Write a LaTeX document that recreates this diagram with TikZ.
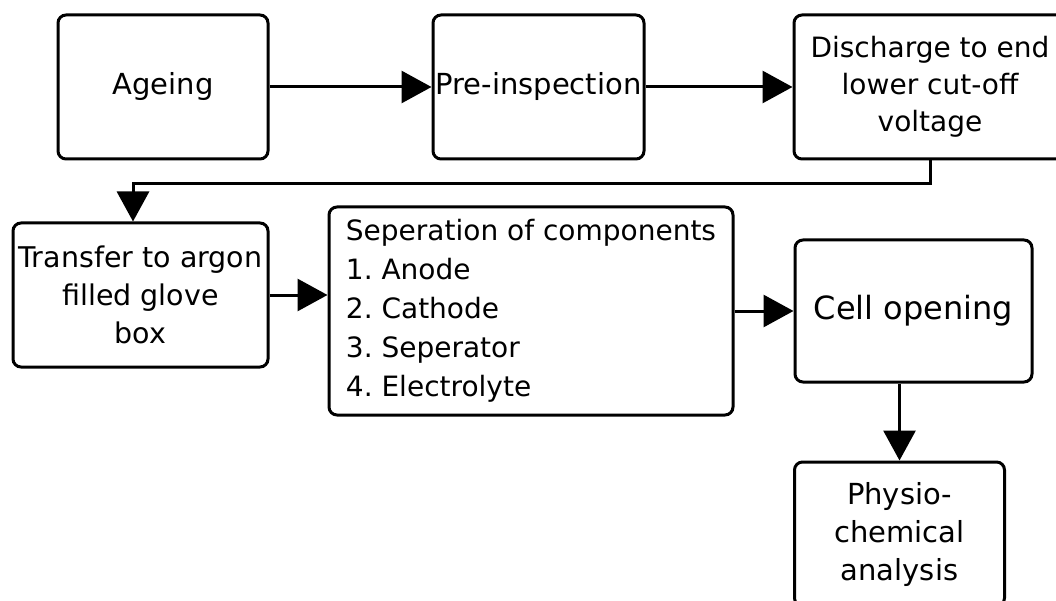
\documentclass[tikz,border=0pt]{standalone}
\usepackage{fontspec}
\setmainfont{DejaVu Sans}
\usetikzlibrary{arrows.meta,calc}
\frenchspacing
\begin{document}
\begin{tikzpicture}[x=1pt,y=-1pt,
  box/.style={draw, line width=3pt, rounded corners=8pt, align=center,
    inner sep=0pt, font=\fontsize{29}{38}\selectfont},
  flow/.style={line width=3pt, -{Triangle[length=30pt,width=32pt]}}]
\useasboundingbox (0,0) rectangle (1056,601);
\clip (0,0) rectangle (1056,601);

\node[box, minimum width=210pt, minimum height=144pt] (ageing) at (163,87) {Ageing};
\node[box, minimum width=211pt, minimum height=144pt] (pre) at (538.5,87) {Pre-inspection};
\node[box, minimum width=272pt, minimum height=144pt, font=\fontsize{28}{37}\selectfont] (dis) at (930,87)
  {Discharge to end\\lower cut-off\\voltage};
\node[box, minimum width=255pt, minimum height=144pt, font=\fontsize{28.5}{38}\selectfont] (transfer) at (140.5,295)
  {Transfer to argon\\filled glove\\box};
\node[box, minimum width=404pt, minimum height=208pt, align=left,
  font=\fontsize{28}{39}\selectfont] (sep) at (531,311)
  {Seperation of components\\1. Anode\\2. Cathode\\3. Seperator\\4. Electrolyte};
\node[box, minimum width=237pt, minimum height=142pt, font=\fontsize{32}{38}\selectfont] (cell) at (913.5,311)
  {Cell opening};
\node[box, minimum width=210pt, minimum height=144pt] (phys) at (899.5,534)
  {Physio-\\chemical\\analysis};

\draw[flow] (ageing) -- (pre);
\draw[flow] (pre) -- (dis);
\draw[flow] (dis.south) -- ++(0,23) -| ([xshift=-7.5pt]transfer.north);
\draw[flow] (transfer.east) -- (transfer.east -| sep.west);
\draw[flow] (sep.east |- cell.west) -- (cell.west);
\draw[flow] (cell.south -| phys.north) -- (phys.north);
\end{tikzpicture}
\end{document}
